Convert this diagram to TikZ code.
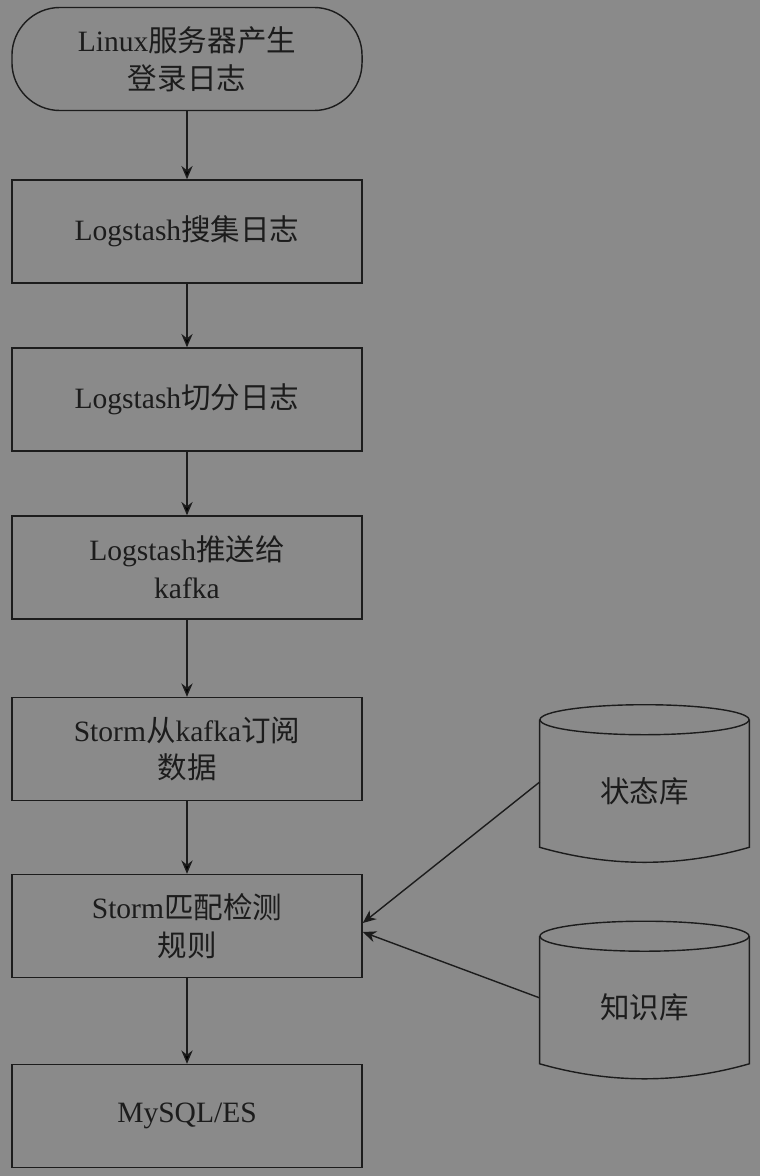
\documentclass[tikz,border=0pt]{standalone}
\usepackage{fontspec}
\setmainfont{Liberation Serif}
\newfontfamily\cjk{Noto Sans CJK SC}
\usetikzlibrary{arrows.meta,calc}
\definecolor{bgc}{RGB}{138,138,138}
\definecolor{ink}{RGB}{28,28,28}

\begin{document}
\begin{tikzpicture}[x=0.025cm,y=-0.025cm,
		box/.style={draw=ink,line width=1pt,minimum width=8.75cm,minimum height=2.575cm,inner sep=0,align=center,text=ink,font=\fontsize{21}{27}\selectfont},
		store/.style={minimum width=5.225cm,minimum height=2.8cm,inner sep=0,text=ink,font=\fontsize{21}{27}\selectfont},
		arr/.style={draw=ink,line width=1pt,-{Stealth[length=9.5pt,width=8pt]}}]
		\fill[bgc] (0,0) rectangle (760,1176);

		\node[box,rounded corners=1.2cm] at (187,59)(1){Linux{\cjk 服务器产生}\\{\cjk 登录日志}};
		\node[box] at (187,231.5)(2){Logstash{\cjk 搜集日志}};
		\node[box] at (187,399.5)(3){Logstash{\cjk 切分日志}};
		\node[box] at (187,567.5)(4){Logstash{\cjk 推送给}\\kafka};
		\node[box] at (187,749)(5){Storm{\cjk 从}kafka{\cjk 订阅}\\{\cjk 数据}};
		\node[box] at (187,926)(6){Storm{\cjk 匹配检测}\\{\cjk 规则}};
		\node[box] at (187,1116)(7){MySQL/ES};
		\path[arr] (1) edge (2)(2) edge (3)(3) edge (4)(4) edge (5)(5) edge (6)(6) edge (7);

		\node[store] at (644.5,791)(s){\cjk 状态库};
		\draw[ink,line width=1pt] ($(s.north)+(0,-15)$) ellipse [x radius=2.6125cm,y radius=0.375cm];
		\draw[ink,line width=1pt]
			($(s.north west)+(0,-15)$)--
			(s.south west) .. controls ($(s.south west)+(70,20)$) and ($(s.south east)+(-70,20)$) ..
			(s.south east)--
			($(s.north east)+(0,-15)$);

		\node[store] at (644.5,1007.5)(k){\cjk 知识库};
		\draw[ink,line width=1pt] ($(k.north)+(0,-15)$) ellipse [x radius=2.6125cm,y radius=0.375cm];
		\draw[ink,line width=1pt]
			($(k.north west)+(0,-15)$)--
			(k.south west) .. controls ($(k.south west)+(70,20)$) and ($(k.south east)+(-70,20)$) ..
			(k.south east)--
			($(k.north east)+(0,-15)$);

		\draw[arr] ([yshift=0.225cm]s.west)--([yshift=0.075cm]6.east);
		\draw[arr] ([yshift=0.24cm]k.west)--([yshift=-0.15cm]6.east);
	\end{tikzpicture}
\end{document}
